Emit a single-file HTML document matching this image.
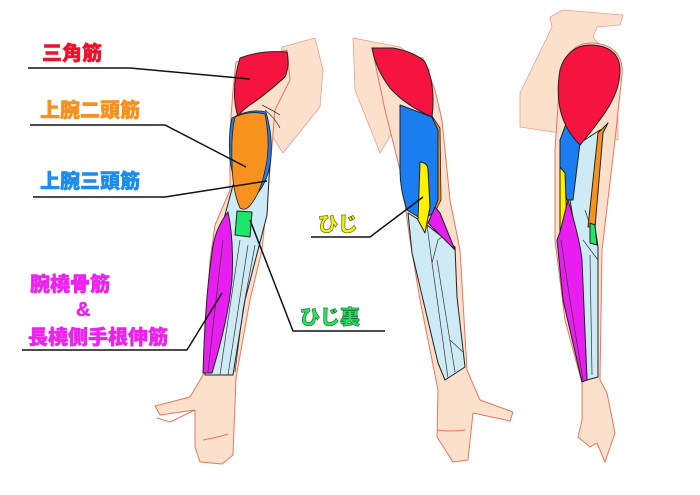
<!DOCTYPE html>
<html><head><meta charset="utf-8"><style>
html,body{margin:0;padding:0;background:#fff;width:700px;height:495px;overflow:hidden}
svg{display:block}
.t{font-family:"Liberation Sans","Noto Sans CJK JP",sans-serif;font-weight:900;font-size:20px}
</style></head><body>
<svg width="700" height="495" viewBox="0 0 700 495" xmlns="http://www.w3.org/2000/svg">
<g stroke-linejoin="round">
<!-- ARM 1 -->
<path d="M282,47 L315,38 L323,70 L320,107 L283,153 L270,133 Z" fill="#fbe0cc" stroke="#e8a090" stroke-width="0.8"/>
<path d="M236,62 L287,50 L290,80 L275,110 L270,170 L262,250 L250,300 L236,378 L233,455 L222,464 L200,462 L195,447 L195,410 L160,415 L155,406 L190,397 L203,375 L210,260 L215,225 L230,190 L230,130 L233,90 Z" fill="#fbe0cc" stroke="#e8755f" stroke-width="1"/>
<path d="M195,410 L170,422 L157,418" fill="none" stroke="#e8755f" stroke-width="1"/>
<path d="M203,440 Q215,438 228,434" fill="none" stroke="#e8755f" stroke-width="1"/>
<path d="M240,58 Q260,50 287,52 Q290,65 285,77 Q265,95 250,105 Q240,112 238,117 Q230,90 240,58 Z" fill="#f5133f" stroke="#222" stroke-width="1"/>
<path d="M233,185 L270,160 L267,215 L258,250 L245,300 L233,375 L205,375 L212,260 L225,215 Z" fill="#cdeaf5" stroke="#222" stroke-width="1"/>
<path d="M232,118 Q250,108 266,112 Q274,140 270,165 Q265,190 250,200 Q235,195 230,160 Q228,135 232,118 Z" fill="#1a7ef0" stroke="#222" stroke-width="0.8"/>
<path d="M235,117 Q250,110 265,114 Q270,140 267,160 Q262,190 252,203 Q246,212 240,208 Q232,190 232,160 Q231,135 235,117 Z" fill="#f7921e" stroke="#222" stroke-width="0.8"/>
<path d="M228,212 Q234,240 232,280 Q228,320 212,373 L203,373 Q205,300 212,253 Q214,230 228,212 Z" fill="#e81ef0" stroke="#222" stroke-width="1"/>
<path d="M223,240 L216,300 L208,372 M240,240 L228,320 L220,375 M248,245 L235,330 L228,375 M255,245 L243,310 L235,372" fill="none" stroke="#333" stroke-width="0.7"/>
<path d="M237,211 L252,212 L250,237 L235,235 Z" fill="#1ee66a" stroke="#222" stroke-width="1"/>
<path d="M262,105 Q272,110 280,115 M265,110 Q275,118 280,128" fill="none" stroke="#333" stroke-width="0.7"/>
<!-- ARM 2 -->
<path d="M353,38 L400,47 L430,70 L380,153 L355,90 Z" fill="#fbe0cc" stroke="#e8a090" stroke-width="0.8"/>
<path d="M372,48 L423,58 L435,90 L442,120 L450,200 L460,250 L467,370 L480,400 L513,412 L510,421 L473,413 L468,460 L453,462 L437,437 L438,390 L420,300 L410,240 L400,170 L385,110 Z" fill="#fbe0cc" stroke="#e8755f" stroke-width="1"/>
<path d="M437,430 Q450,432 465,430" fill="none" stroke="#e8755f" stroke-width="1"/>
<path d="M372,48 L393,48 Q415,52 425,62 Q436,85 432,117 Q405,105 390,88 Q376,70 372,48 Z" fill="#f5133f" stroke="#222" stroke-width="1"/>
<path d="M408,213 L427,225 L455,247 L457,297 L465,367 L445,380 L438,363 L412,253 Z" fill="#cdeaf5" stroke="#222" stroke-width="1"/>
<path d="M427,225 L432,263 L440,320 L448,378 M437,260 L445,310 L455,372 M432,263 L438,240 L447,233 M450,340 L463,352" fill="none" stroke="#333" stroke-width="0.7"/>
<path d="M432,116 L440,128 L441,200 L435,212 L432,205 Z" fill="#f7921e" stroke="#222" stroke-width="0.8"/>
<path d="M400,105 L432,117 L438,130 L438,200 L433,213 L423,220 L407,210 Q400,190 400,170 Z" fill="#1a7ef0" stroke="#222" stroke-width="1"/>
<path d="M435,207 L440,213 L455,250 L448,243 L428,223 Z" fill="#e81ef0" stroke="#222" stroke-width="1"/>
<path d="M420,162 Q428,163 428,170 L430,207 L425,233 L418,220 Z" fill="#fff200" stroke="#222" stroke-width="1"/>
<!-- ARM 3 -->
<path d="M550,17 L563,10 L623,15 L620,25 L597,27 L593,37 L618,67 L618,140 L587,137 L520,127 L520,93 L552,27 Z" fill="#fbe0cc" stroke="#e8a090" stroke-width="0.8"/>
<path d="M590,43 C612,43 624,55 622,75 L615,140 L602,250 L600,380 L607,393 L615,433 L605,462 L597,443 L590,447 L578,437 L582,420 L582,383 L565,320 L555,240 L555,150 L560,75 C565,50 580,43 590,43 Z" fill="#fbe0cc" stroke="#e8755f" stroke-width="1"/>
<path d="M580,143 L600,130 L595,227 L598,247 L598,377 L587,380 L582,273 L570,200 Z" fill="#cdeaf5" stroke="#222" stroke-width="1"/>
<path d="M585,210 L595,240 M583,240 L598,260 M590,255 L592,375" fill="none" stroke="#333" stroke-width="0.7"/>
<path d="M570,113 L580,143 L573,200 L567,200 L560,167 L560,140 Z" fill="#1a7ef0" stroke="#222" stroke-width="1"/>
<path d="M560,167 L565,173 L567,227 L560,233 Z" fill="#fff200" stroke="#222" stroke-width="1"/>
<path d="M608,123 L598,133 L588,227 L595,227 L603,133 Z" fill="#f7921e" stroke="#222" stroke-width="1"/>
<path d="M590,223 L595,225 L597,245 L590,243 Z" fill="#1ee66a" stroke="#222" stroke-width="1"/>
<path d="M568,200 Q580,240 582,260 L587,380 L582,382 L563,300 L557,240 L560,232 Z" fill="#e81ef0" stroke="#222" stroke-width="1"/>
<path d="M561,240 L570,300 L583,380" fill="none" stroke="#333" stroke-width="0.7"/>
<path d="M580,145 C560,125 555,100 560,70 C565,52 578,45 590,45 C610,45 620,55 620,70 C620,95 605,115 580,145 Z" fill="#f5133f" stroke="#222" stroke-width="1"/>
</g>
<!-- leader lines -->
<g fill="none" stroke="#111" stroke-width="1.5">
<polyline points="28,68 130,68 250,79"/>
<polyline points="30,125 165,125 246,167"/>
<polyline points="33,197 165,197 267,181"/>
<polyline points="22,350 187,350 222,293"/>
<polyline points="250,220 293,331 385,331"/>
<polyline points="311,237 370,237 423,197"/>
</g>
<g class="t">
<text x="42" y="60" fill="#f0102a" stroke="#f0102a" stroke-width="0.5">三角筋</text>
<text x="40" y="117" fill="#f7901e" stroke="#f7901e" stroke-width="0.5">上腕二頭筋</text>
<text x="40" y="188" fill="#1a8cf0" stroke="#1a8cf0" stroke-width="0.5">上腕三頭筋</text>
<text x="30" y="291" fill="#ee22ee" stroke="#ee22ee" stroke-width="0.5">腕橈骨筋</text>
<text x="76" y="316" fill="#ee22ee" stroke="#ee22ee" stroke-width="0.5">&amp;</text>
<text x="28" y="344" fill="#ee22ee" stroke="#ee22ee" stroke-width="0.5">長橈側手根伸筋</text>
<text x="318" y="231" fill="#f5f000" stroke="#6a6a30" stroke-width="0.7">ひじ</text>
<text x="300" y="324" fill="#2fe060" stroke="#1a7a3a" stroke-width="0.7">ひじ裏</text>
</g>
</svg>
</body></html>
